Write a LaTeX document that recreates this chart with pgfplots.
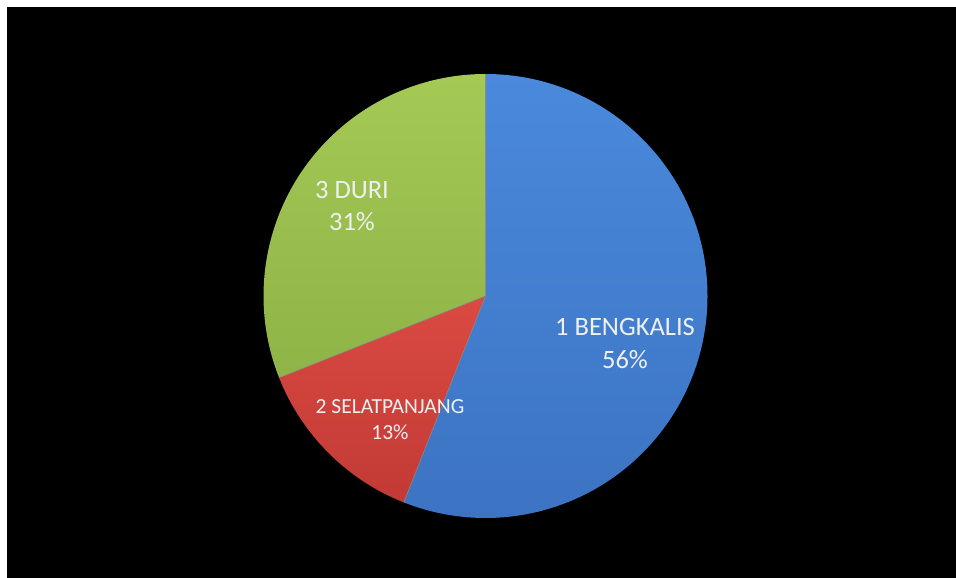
\documentclass[border=0pt]{standalone}
\usepackage{pgfplots}
\pgfplotsset{compat=1.18}
\usepackage{pgfplotstable}
\usepackage{fontspec}
\setmainfont{Carlito}

\definecolor{blueTop}{HTML}{4A89DC}
\definecolor{blueBot}{HTML}{3C73C2}
\definecolor{redTop}{HTML}{DA4A42}
\definecolor{redBot}{HTML}{C23A35}
\definecolor{greenTop}{HTML}{A4C955}
\definecolor{greenBot}{HTML}{8FB447}
\definecolor{labelcol}{HTML}{EEF0F0}

% share of each town, in percent
\pgfplotstableread{
share
56
13
31
}\piedata

\pgfplotstablegetelem{0}{share}\of\piedata \let\vA\pgfplotsretval
\pgfplotstablegetelem{1}{share}\of\piedata \let\vB\pgfplotsretval
\pgfplotstablegetelem{2}{share}\of\piedata \let\vC\pgfplotsretval
\pgfmathsetmacro\aA{90}
\pgfmathsetmacro\aB{\aA-3.6*\vA}
\pgfmathsetmacro\aC{\aB-3.6*\vB}
\pgfmathsetmacro\aD{\aC-3.6*\vC}

\begin{document}
\begin{tikzpicture}
\begin{axis}[
    width=949bp, height=571bp,
    scale only axis,
    xmin=7, xmax=956,
    ymin=0, ymax=571,
    axis lines=none,
    ticks=none,
    clip=false,
]
% black slide, running past the right and bottom edges of the page
\fill[black] (axis cs:7,-5) rectangle (axis cs:961,571);
\def\cx{485.5}\def\cy{282}\def\r{222bp}
% 1 BENGKALIS
\path[top color=blueTop, bottom color=blueBot]
    (axis cs:\cx,\cy) -- ++(\aA:\r) arc[start angle=\aA, end angle=\aB, radius=\r] -- cycle;
% 2 SELATPANJANG
\path[top color=redTop, bottom color=redBot]
    (axis cs:\cx,\cy) -- ++(\aB:\r) arc[start angle=\aB, end angle=\aC, radius=\r] -- cycle;
% 3 DURI
\path[top color=greenTop, bottom color=greenBot]
    (axis cs:\cx,\cy) -- ++(\aC:\r) arc[start angle=\aC, end angle=\aD, radius=\r] -- cycle;
% slice edges
\draw[black!45, line width=0.6bp] (axis cs:\cx,\cy) -- ++(\aA:\r);
\draw[black!45, line width=0.6bp] (axis cs:\cx,\cy) -- ++(\aB:\r);
\draw[black!45, line width=0.6bp] (axis cs:\cx,\cy) -- ++(\aC:\r);

\node[text=labelcol, align=center, inner sep=0pt,
      font=\fontsize{26.5bp}{33bp}\selectfont]
    at (axis cs:625,234.5) {1 BENGKALIS\\\vA\%};
\node[text=labelcol, align=center, inner sep=0pt,
      font=\fontsize{21.5bp}{26bp}\selectfont]
    at (axis cs:390,158.5) {2 SELATPANJANG\\\vB\%};
\node[text=labelcol, align=center, inner sep=0pt,
      font=\fontsize{26.5bp}{32bp}\selectfont]
    at (axis cs:352,372) {3 DURI\\\vC\%};
\end{axis}
\pgfresetboundingbox
\path[use as bounding box] ([xshift=-7bp]current axis.south west)
    rectangle ([yshift=7bp]current axis.north east);
\end{tikzpicture}
\end{document}
